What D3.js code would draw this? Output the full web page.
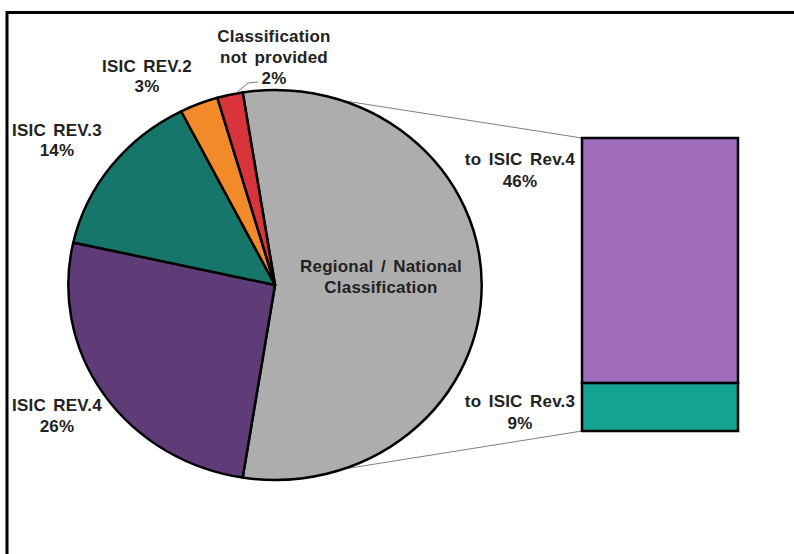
<!DOCTYPE html>
<html>
<head>
<meta charset="utf-8">
<script src="https://cdn.jsdelivr.net/npm/d3@7"></script>
<style>
  html, body { margin: 0; padding: 0; background: #fff; }
  svg { display: block; }
  text { font-family: "Liberation Sans", Arial, sans-serif; font-weight: bold; fill: #222; }
</style>
</head>
<body>
<svg id="chart" width="794" height="554"></svg>
<script>
// ---- data ----
const pieCategories = ["Regional / National Classification", "ISIC REV.4", "ISIC REV.3", "ISIC REV.2", "Classification not provided"];
const pieValues = [55, 26, 14, 3, 2];
const pieColors = ["#adadad", "#5f3b78", "#17766a", "#f28a2a", "#d9343b"];
const pieLabelLines = [
  ["Regional / National", "Classification"],
  ["ISIC REV.4", "26%"],
  ["ISIC REV.3", "14%"],
  ["ISIC REV.2", "3%"],
  ["Classification", "not provided", "2%"]
];
const barCategories = ["to ISIC Rev.4", "to ISIC Rev.3"];
const barValues = [46, 9];
const barColors = ["#a06dbd", "#15a391"];
const barLabelLines = [["to ISIC Rev.4", "46%"], ["to ISIC Rev.3", "9%"]];

// ---- layout ----
const svg = d3.select("#chart");
const cx = 275, cy = 285, R = 195, sx = 1.06;
const pieLabelPos = [[381, 272, 21], [57, 411, 21], [57, 136, 20], [147, 72, 20], [274, 42, 21]];
const bar = { x: 582, y: 138, w: 156, h: 293 };
const barLabelX = 520;
const barLabelBaseline = [165, 407];
const lineH = 22;

// frame
svg.append("rect").attr("x", 7).attr("y", 12.5).attr("width", 820).attr("height", 600)
  .attr("fill", "none").attr("stroke", "#000").attr("stroke-width", 3);

// connector lines (drawn beneath the pie and bar)
svg.append("line").attr("x1", cx).attr("y1", cy - R).attr("x2", bar.x).attr("y2", bar.y)
  .attr("stroke", "#7f7f7f").attr("stroke-width", 1);
svg.append("line").attr("x1", cx).attr("y1", cy + R).attr("x2", bar.x).attr("y2", bar.y + bar.h)
  .attr("stroke", "#7f7f7f").attr("stroke-width", 1);

// pie
const total = d3.sum(pieValues);
const start = Math.PI / 2 - (pieValues[0] / total) * Math.PI;
const pie = d3.pie().sort(null).value(d => d).startAngle(start).endAngle(start + 2 * Math.PI);
const arc = d3.arc().innerRadius(0).outerRadius(R);
const pg = svg.append("g").attr("transform", `translate(${cx},${cy}) scale(${sx},1)`);
pg.selectAll("path").data(pie(pieValues)).join("path")
  .attr("d", arc)
  .attr("fill", (d, i) => pieColors[i])
  .attr("stroke", "#000").attr("stroke-width", 2.5)
  .attr("stroke-linejoin", "round")
  .attr("vector-effect", "non-scaling-stroke");

// bar (stacked, top = first)
const y = d3.scaleLinear().domain([0, d3.sum(barValues)]).range([bar.y, bar.y + bar.h]);
const stacks = [];
let acc = 0;
barValues.forEach((v, i) => { stacks.push({ i, y0: acc, y1: acc + v }); acc += v; });
svg.append("g").selectAll("rect").data(stacks).join("rect")
  .attr("x", bar.x).attr("width", bar.w)
  .attr("y", d => y(d.y0)).attr("height", d => y(d.y1) - y(d.y0))
  .attr("fill", d => barColors[d.i])
  .attr("stroke", "#000").attr("stroke-width", 2.5);

// leader line for the small slice
svg.append("polyline").attr("points", "236,93 248,83 258,82")
  .attr("fill", "none").attr("stroke", "#7f7f7f").attr("stroke-width", 1);

// labels
function drawLabel(lines, x, y0, lh) {
  const t = svg.append("text").attr("text-anchor", "middle").attr("font-size", 17)
    .attr("word-spacing", 2.5).attr("letter-spacing", 0.2);
  lines.forEach((s, k) => t.append("tspan").attr("x", x).attr("y", y0 + k * lh).text(s));
}
pieLabelLines.forEach((lines, i) => drawLabel(lines, pieLabelPos[i][0], pieLabelPos[i][1], pieLabelPos[i][2]));
barLabelLines.forEach((lines, i) => drawLabel(lines, barLabelX, barLabelBaseline[i], lineH));
</script>
</body>
</html>
